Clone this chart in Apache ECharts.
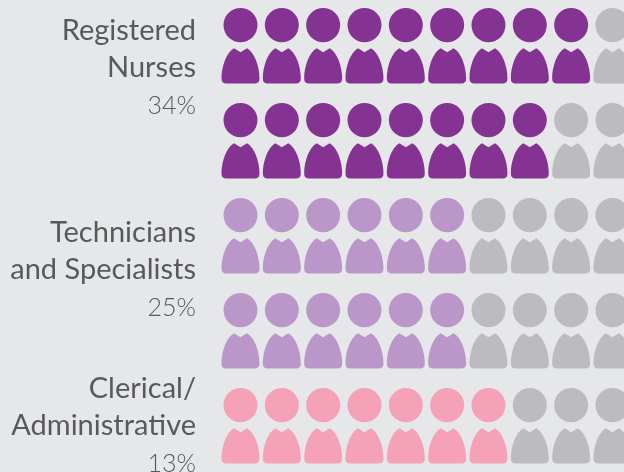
<!DOCTYPE html>
<html><head><meta charset="utf-8">
<style>html,body{margin:0;padding:0;background:#e6e7e8}#c{width:624px;height:472px}</style>
<script src="https://cdn.jsdelivr.net/npm/echarts@6/dist/echarts.min.js"></script>
</head><body><div id="c"></div><script>
const columns = ['1','2','3','4','5','6','7','8','9','10'];
const rows = ['Registered Nurses A','Registered Nurses B','Technicians and Specialists A','Technicians and Specialists B','Clerical/Administrative'];
const filledPerRow = [9,8,6,6,7];
const rowColors = ['#853393','#853393','#bb96c9','#bb96c9','#f5a2b9'];
const emptyColor = '#bcbcc0';
const groupLines = [['Registered','Nurses'],['Technicians','and Specialists'],['Clerical/','Administrative']];
const groupPercents = ['34%','25%','13%'];
const groupTops = [30,232,388];
const person = 'path://M2 17A17 17 0 1 1 36 17A17 17 0 1 1 2 17ZM12.5 40L19 44L25.5 40C33 44 38 58 38 70Q38 75 33 75L5 75Q0 75 0 70C0 58 5 44 12.5 40Z';
const data = [];
rows.forEach((r,ri)=>columns.forEach((c,ci)=>data.push({value:[c,r],itemStyle:{color:ci<filledPerRow[ri]?rowColors[ri]:emptyColor,opacity:1}})));
const graphic = [];
groupLines.forEach((lines,g)=>{
  lines.forEach((t,i)=>graphic.push({type:'text',right:428,silent:true,top:groupTops[g]+37.5*i-14,style:{text:t,fill:'#58595b',font:'400 29px Lato',textAlign:'right'}}));
  graphic.push({type:'text',right:428,silent:true,top:groupTops[g]+75-12,style:{text:groupPercents[g],fill:'#58595b',font:'300 25px Lato',textAlign:'right'}});
});
const chart = echarts.init(document.getElementById('c'),null,{renderer:'canvas'});
chart.setOption({
  backgroundColor:'#e6e7e8',animation:false,
  grid:{left:219.83,top:-1.75,width:413.3,height:475,containLabel:false,outerBoundsMode:'none'},
  xAxis:{type:'category',data:columns,show:false},
  yAxis:{type:'category',data:rows,inverse:true,show:false},
  graphic:graphic,
  series:[{type:'scatter',symbol:person,symbolSize:[38,75.5],clip:false,silent:true,itemStyle:{opacity:1},data:data}]
});
</script></body></html>
